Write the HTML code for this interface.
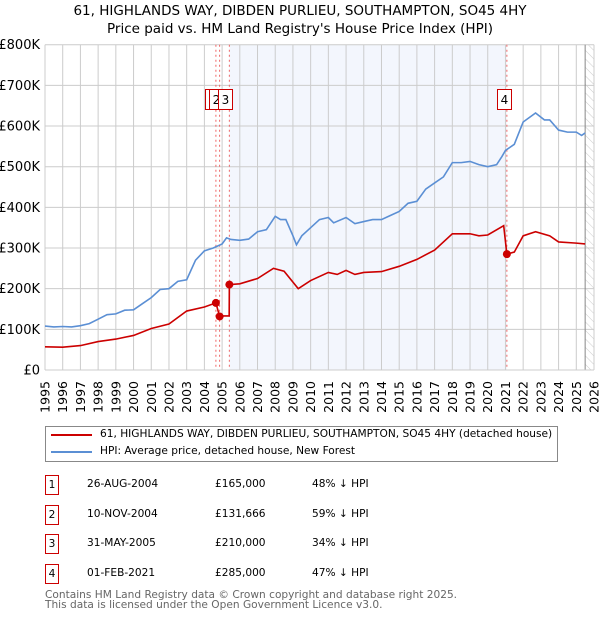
<!DOCTYPE html>
<html><head><meta charset="utf-8"><style>
body{margin:0;background:#fff;font-family:"DejaVu Sans","Liberation Sans",sans-serif;}
#wrap{position:relative;width:600px;height:620px;overflow:hidden;}
.t{position:absolute;white-space:nowrap;color:#000;}
svg text{font-family:"DejaVu Sans","Liberation Sans",sans-serif;}
</style></head><body>
<div id="wrap">
<svg id="chart" width="600" height="620" style="position:absolute;left:0;top:0">
<defs><pattern id="hatch" width="6" height="6" patternUnits="userSpaceOnUse" patternTransform="rotate(-45)"><line x1="0" y1="0" x2="0" y2="6" stroke="#ccc" stroke-width="1"/></pattern></defs>
<text x="300" y="15" text-anchor="middle" font-size="13.5">61, HIGHLANDS WAY, DIBDEN PURLIEU, SOUTHAMPTON, SO45 4HY</text>
<text x="300" y="33" text-anchor="middle" font-size="13.5">Price paid vs. HM Land Registry's House Price Index (HPI)</text>
<g id="plot"></g>
</svg>
<div style="position:absolute;left:45px;top:426px;width:511px;height:34px;border:1px solid #888;font-size:10.6px;">
<div style="position:absolute;left:5px;top:7px;width:41px;height:2px;background:#cc0000"></div>
<div class="t" style="left:54px;top:1px">61, HIGHLANDS WAY, DIBDEN PURLIEU, SOUTHAMPTON, SO45 4HY (detached house)</div>
<div style="position:absolute;left:5px;top:24px;width:41px;height:2px;background:#5b8fd4"></div>
<div class="t" style="left:54px;top:18px">HPI: Average price, detached house, New Forest</div>
</div>
<div id="table"></div>
<div class="t" style="left:45px;top:590px;font-size:10.6px;color:#666;line-height:10px">Contains HM Land Registry data © Crown copyright and database right 2025.<br>This data is licensed under the Open Government Licence v3.0.</div>
</div>
<script>
const hpiYears=[1995,1995.5,1996,1996.5,1997,1997.5,1998,1998.5,1999,1999.5,2000,2000.5,2001,2001.5,2002,2002.5,2003,2003.5,2004,2004.5,2005,2005.25,2005.5,2006,2006.5,2007,2007.5,2008,2008.3,2008.6,2009,2009.2,2009.5,2010,2010.5,2011,2011.3,2012,2012.5,2013,2013.5,2014,2014.5,2015,2015.5,2016,2016.5,2017,2017.5,2018,2018.5,2019,2019.5,2020,2020.5,2020.8,2021,2021.5,2022,2022.7,2023.2,2023.5,2024,2024.5,2025,2025.3,2025.5];
const hpiValues=[108,106,107,106,109,114,125,136,138,147,148,163,178,198,200,218,222,270,293,300,310,325,321,319,322,340,345,378,370,370,330,308,330,350,370,375,362,375,360,365,370,370,380,390,410,415,445,460,475,510,510,513,505,500,505,525,540,555,610,632,615,615,590,585,585,577,583];
const redYears=[1995,1996,1997,1998,1999,2000,2001,2002,2003,2004,2004.65,2004.86,2005.1,2005.4,2005.41,2006,2007,2007.9,2008.5,2009.3,2010,2011,2011.5,2012,2012.5,2013,2014,2015,2016,2017,2018,2019,2019.5,2020,2020.9,2021.08,2021.5,2022,2022.7,2023.5,2024,2025,2025.5];
const redValues=[57,56,60,70,76,85,102,113,145,155,165,131.666,133,133,210,212,225,250,243,200,220,240,235,245,235,240,242,255,272,295,335,335,330,332,355,285,290,330,340,330,315,312,310];
const saleYears=[2004.65,2004.86,2005.41,2021.08];
const saleValues=[165,131.666,210,285];
const saleLabels=["1","2","3","4"];
const saleDates=["26-AUG-2004","10-NOV-2004","31-MAY-2005","01-FEB-2021"];
const salePrices=["£165,000","£131,666","£210,000","£285,000"];
const saleHpi=["48% ↓ HPI","59% ↓ HPI","34% ↓ HPI","47% ↓ HPI"];
const yTicks=[0,100,200,300,400,500,600,700,800];
const yTickLabels=["£0","£100K","£200K","£300K","£400K","£500K","£600K","£700K","£800K"];

const X0=45,X1=594,Y0=370,Y1=44.7;
const xs=y=>X0+(y-1995)/(2026-1995)*(X1-X0);
const ys=v=>Y0-v/800*(Y0-Y1);
const NS="http://www.w3.org/2000/svg";
const g=document.getElementById('plot');
function mk(tag,attrs,parent){const e=document.createElementNS(NS,tag);for(const k in attrs)e.setAttribute(k,attrs[k]);(parent||g).appendChild(e);return e;}
let e;
e=mk('rect',{x:xs(saleYears[2]),y:Y1,width:xs(saleYears[3])-xs(saleYears[2]),height:Y0-Y1,fill:'#f3f6fd'});


e=mk('rect',{x:xs(2025.5),y:Y1,width:X1-xs(2025.5),height:Y0-Y1,fill:'url(#hatch)'});


for(let yr=1995;yr<=2026;yr++){
 e=mk('line',{x1:xs(yr),x2:xs(yr),y1:Y1,y2:Y0,stroke:'#ccc','stroke-width':1});
 
 
 e=mk('text',{x:0,y:0,'font-size':12.5,'text-anchor':'end',transform:`translate(${xs(yr)+4.5},381) rotate(-90)`});
 e.textContent=yr;
 
 
}
yTicks.forEach((v,i)=>{
 e=mk('line',{x1:X0,x2:X1,y1:ys(v),y2:ys(v),stroke:'#ccc','stroke-width':1});
 
 
 e=mk('text',{x:40,y:ys(v)+4.5,'font-size':13,'text-anchor':'end'});
 e.textContent=yTickLabels[i];
 
 
});
e=mk('line',{x1:xs(2025.5),x2:xs(2025.5),y1:Y1,y2:Y0,stroke:'#888','stroke-width':1});


saleYears.forEach(yr=>{
 e=mk('line',{x1:xs(yr),x2:xs(yr),y1:Y1,y2:Y0,stroke:'#e66','stroke-width':1,'stroke-dasharray':'2,3'});
 
 
});
e=mk('polyline',{points:hpiYears.map((y,i)=>xs(y)+','+ys(hpiValues[i])).join(' '),fill:'none',stroke:'#5b8fd4','stroke-width':1.6});


e=mk('polyline',{points:redYears.map((y,i)=>xs(y)+','+ys(redValues[i])).join(' '),fill:'none',stroke:'#cc0000','stroke-width':1.6});


saleYears.forEach((yr,i)=>{
 e=mk('circle',{cx:xs(yr),cy:ys(saleValues[i]),r:4,fill:'#cc0000'});
 
 
});
const boxLeft=[205,209,218,497];
saleLabels.forEach((l,i)=>{
 e=mk('rect',{x:boxLeft[i]+0.5,y:89.5,width:14,height:20,fill:'#fff',stroke:'#cc0000','stroke-width':1});
 
 
 e=mk('text',{x:boxLeft[i]+7.5,y:104,'font-size':12,'text-anchor':'middle'});
 e.textContent=l;
 
 
});
e=mk('line',{x1:X0,x2:X1,y1:Y0,y2:Y0,stroke:'#ccc','stroke-width':1});
const tb=document.getElementById('table');
saleLabels.forEach((l,i)=>{
 const cy=485+i*29.5;
 const row=document.createElement('div');
 
 
 row.style.cssText=`position:absolute;left:0;top:${cy-10}px;width:600px;height:20px;font-size:10.6px;`;
 row.innerHTML=`<div style="position:absolute;left:45px;top:0;width:12px;height:18px;border:1px solid #cc0000;text-align:center;line-height:18px">${l}</div>`+
 `<div class="t" style="left:87px;top:3px">${saleDates[i]}</div>`+
 `<div class="t" style="left:215px;top:3px">${salePrices[i]}</div>`+
 `<div class="t" style="left:312px;top:3px">${saleHpi[i]}</div>`;
 tb.appendChild(row);
});
</script>
</body></html>
